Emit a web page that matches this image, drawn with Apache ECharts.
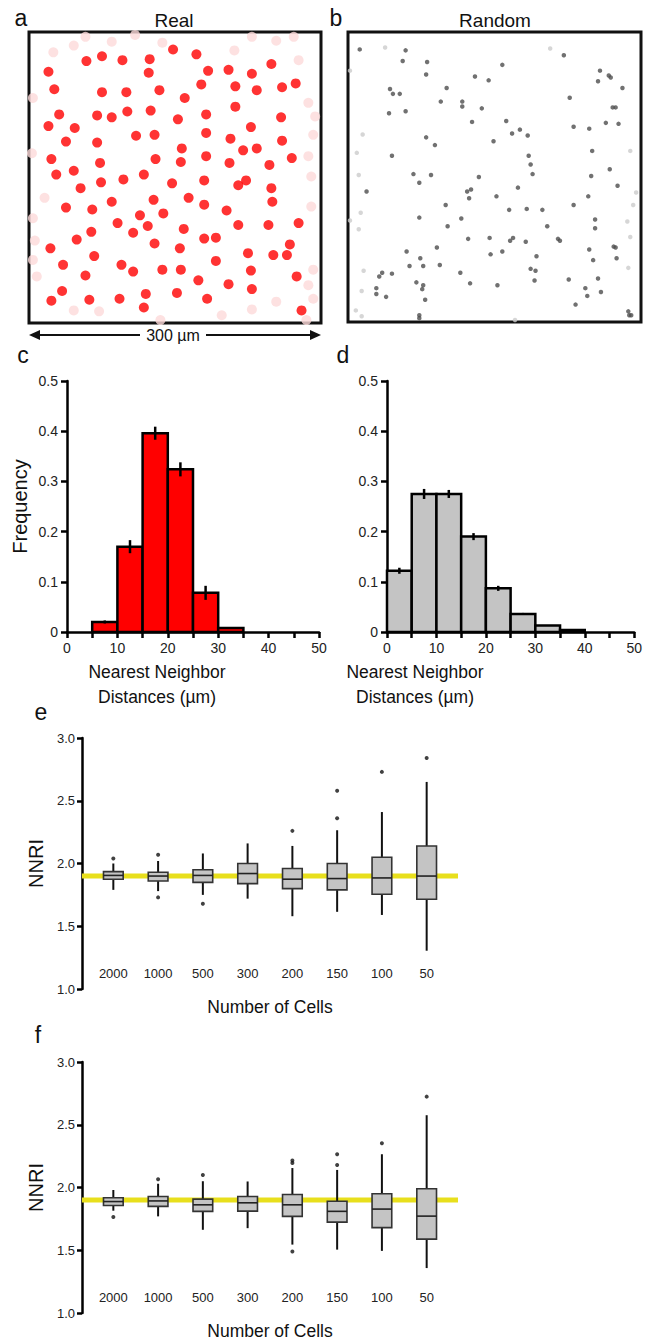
<!DOCTYPE html>
<html>
<head>
<meta charset="utf-8">
<script src="https://cdn.jsdelivr.net/npm/echarts@6/dist/echarts.min.js"></script>
<style>
html, body { margin: 0; padding: 0; background: #fff; }
#chart { width: 645px; height: 1341px; }
</style>
</head>
<body>
<div id="chart"></div>
<script>
// a: cell positions in the real field (µm, y counted from the top)
var realCells = [[148,18],[172,23],[75,25],[59,30],[96,29],[124,28],[249,33],[20,41],[123,42],[184,40],[205,39],[229,43],[26,59],[75,62],[100,62],[134,60],[177,54],[212,56],[234,60],[260,57],[274,53],[160,68],[212,77],[31,85],[70,86],[85,88],[101,82],[125,81],[153,90],[182,85],[259,88],[20,97],[47,99],[228,98],[110,107],[129,106],[182,104],[38,113],[70,114],[207,110],[157,120],[220,122],[234,120],[260,112],[23,131],[73,135],[130,131],[156,134],[182,128],[206,135],[270,130],[247,137],[28,147],[46,143],[74,155],[97,152],[118,147],[147,156],[180,153],[215,158],[223,153],[53,161],[249,161],[250,175],[164,171],[128,173],[85,175],[38,181],[65,183],[180,178],[203,184],[138,187],[114,189],[91,197],[122,200],[159,203],[64,206],[107,207],[215,199],[246,199],[277,197],[49,214],[180,213],[192,212],[129,218],[22,223],[155,223],[268,219],[67,231],[225,228],[251,230],[265,230],[192,236],[35,240],[95,240],[107,247],[137,245],[156,245],[228,246],[58,251],[275,252],[174,256],[205,260],[229,265],[34,267],[23,277],[62,276],[93,275],[120,270],[152,269],[183,275],[118,284],[280,287]];
// faded cells at the border of the real field
var realEdgeCells = [[25,21],[46,14],[58,5],[85,10],[109,3],[137,11],[211,19],[229,5],[254,9],[272,5],[277,29],[4,68],[287,73],[294,87],[292,106],[3,125],[287,128],[290,149],[16,171],[4,192],[290,180],[6,215],[4,235],[8,252],[292,245],[287,261],[46,287],[72,288],[135,297],[198,292],[229,286],[254,278],[292,275],[285,297]];

// b: random field
var randomCells = [[12,18],[59,19],[56,30],[81,31],[158,34],[221,24],[80,44],[130,46],[144,50],[258,40],[267,45],[269,47],[256,51],[281,58],[43,59],[46,64],[53,64],[101,58],[227,68],[95,72],[117,72],[117,77],[137,79],[42,84],[59,82],[271,78],[274,78],[127,93],[162,92],[176,101],[168,105],[184,107],[231,98],[247,100],[264,94],[277,95],[80,109],[89,117],[149,113],[45,128],[250,123],[185,128],[187,137],[189,147],[268,142],[67,147],[73,156],[85,148],[134,150],[249,149],[276,159],[19,165],[122,165],[126,163],[124,172],[174,161],[152,170],[246,170],[100,179],[231,179],[165,184],[183,183],[199,184],[253,194],[73,192],[116,193],[102,201],[204,201],[253,203],[123,214],[145,213],[169,213],[166,216],[182,217],[215,214],[217,216],[272,222],[274,223],[247,225],[91,223],[60,227],[158,227],[146,230],[193,232],[251,236],[275,234],[74,234],[63,242],[77,242],[94,241],[187,245],[192,247],[35,249],[32,253],[45,250],[115,249],[70,259],[77,262],[76,266],[125,260],[153,262],[191,257],[226,256],[256,255],[29,265],[29,271],[39,274],[243,265],[245,273],[259,269],[79,277],[233,282],[287,289],[288,293],[290,293],[73,293],[73,296]];
var randomEdgeCells = [[38,16],[207,17],[15,106],[9,125],[11,148],[13,187],[11,204],[295,166],[292,179],[286,196],[289,212],[287,244],[16,247],[14,268],[8,288],[14,294],[171,298],[289,123],[2,40],[2,195]];

// c, d: nearest neighbour histograms (bin start, µm)
var binStart = [0, 5, 10, 15, 20, 25, 30, 35, 40, 45];
var binWidth = 5;
var realFreq = [0, 0.02, 0.17, 0.396, 0.324, 0.078, 0.008, 0, 0, 0];
var realErr  = [0, 0.003, 0.013, 0.013, 0.014, 0.014, 0.002, 0, 0, 0];
var randFreq = [0.122, 0.275, 0.275, 0.19, 0.087, 0.036, 0.013, 0.004, 0, 0];
var randErr  = [0.006, 0.01, 0.008, 0.007, 0.005, 0.002, 0.001, 0, 0, 0];

// e, f: NNRI by number of cells  [min, Q1, median, Q3, max]
var cellCounts = ['2000', '1000', '500', '300', '200', '150', '100', '50'];
var boxesE = [[1.79,1.875,1.905,1.935,2.0],[1.78,1.86,1.90,1.93,2.02],[1.75,1.85,1.905,1.95,2.08],[1.72,1.84,1.92,2.0,2.16],[1.58,1.80,1.875,1.96,2.14],[1.615,1.79,1.88,2.0,2.265],[1.59,1.755,1.885,2.05,2.41],[1.305,1.715,1.90,2.14,2.65]];
var outliersE = [[2.04],[2.07,1.73],[1.68],[],[2.26],[2.58,2.36],[2.73],[2.84]];
var boxesF = [[1.815,1.857,1.888,1.918,1.98],[1.77,1.85,1.893,1.928,2.03],[1.663,1.81,1.862,1.907,2.05],[1.676,1.812,1.878,1.928,2.048],[1.545,1.77,1.862,1.944,2.155],[1.505,1.724,1.81,1.89,2.14],[1.495,1.68,1.828,1.95,2.265],[1.358,1.589,1.772,1.99,2.576]];
var outliersF = [[1.765],[2.066],[2.10],[],[2.215,2.195,1.49],[2.265,2.18],[2.353],[2.724]];
var nnriRef = 1.9;

var FONT = '"Liberation Sans", Arial, Helvetica, sans-serif';

function histData(freq, err) {
  return binStart.map(function (s, i) { return [s, s + binWidth, freq[i], err[i]]; });
}
function boxData(boxes) {
  return boxes.map(function (b, i) { return [i + 1].concat(b); });
}
function outlierData(outs) {
  var res = [];
  outs.forEach(function (list, i) {
    list.forEach(function (v) { res.push([i + 1, v]); });
  });
  return res;
}

function histItem(fill) {
  return function (params, api) {
    var x0 = api.value(0), x1 = api.value(1), v = api.value(2), e = api.value(3);
    if (!(v > 0)) return;
    var p0 = api.coord([x0, v]);
    var p1 = api.coord([x1, 0]);
    var mid = (x0 + x1) / 2;
    var et = api.coord([mid, v + e]);
    var eb = api.coord([mid, v - e]);
    var kids = [{
      type: 'rect',
      shape: { x: p0[0], y: p0[1], width: p1[0] - p0[0], height: p1[1] - p0[1] },
      style: { fill: fill, stroke: '#000', lineWidth: 2.5 }
    }];
    if (e > 0) {
      kids.push({
        type: 'line',
        shape: { x1: et[0], y1: et[1], x2: eb[0], y2: eb[1] },
        style: { stroke: '#000', lineWidth: 2.5 }
      });
    }
    return { type: 'group', children: kids };
  };
}

function boxItem(params, api) {
  var x = api.value(0);
  var lo = api.coord([x, api.value(1)]);
  var q1 = api.coord([x, api.value(2)]);
  var md = api.coord([x, api.value(3)]);
  var q3 = api.coord([x, api.value(4)]);
  var hi = api.coord([x, api.value(5)]);
  var w = api.size([0.44, 0])[0];
  return {
    type: 'group',
    children: [
      { type: 'line', shape: { x1: lo[0], y1: lo[1], x2: q1[0], y2: q1[1] }, style: { stroke: '#111', lineWidth: 2 } },
      { type: 'line', shape: { x1: q3[0], y1: q3[1], x2: hi[0], y2: hi[1] }, style: { stroke: '#111', lineWidth: 2 } },
      { type: 'rect', shape: { x: q3[0] - w / 2, y: q3[1], width: w, height: q1[1] - q3[1] }, style: { fill: '#c4c4c4', stroke: '#333', lineWidth: 1.6 } },
      { type: 'line', shape: { x1: md[0] - w / 2, y1: md[1], x2: md[0] + w / 2, y2: md[1] }, style: { stroke: '#222', lineWidth: 1.6 } }
    ]
  };
}

var axisLine = { show: true, lineStyle: { color: '#000', width: 2.5 } };
var axisTick = { show: true, inside: false, length: 6, lineStyle: { color: '#000', width: 2.5 } };
var labelStyle = { color: '#222', fontFamily: FONT, fontSize: 14 };

function fieldAxes(grid) {
  return {
    x: { type: 'value', gridIndex: grid, min: 0, max: 300, show: false },
    y: { type: 'value', gridIndex: grid, min: 0, max: 300, inverse: true, show: false }
  };
}

function histX(grid) {
  return {
    type: 'value', gridIndex: grid, min: 0, max: 50, interval: 5,
    axisLine: axisLine, axisTick: axisTick, splitLine: { show: false },
    axisLabel: Object.assign({ margin: 9, formatter: function (v) { return v % 10 === 0 ? String(v) : ''; } }, labelStyle)
  };
}
function histY(grid, name) {
  return {
    type: 'value', gridIndex: grid, min: 0, max: 0.5, interval: 0.1,
    axisLine: axisLine, axisTick: axisTick, splitLine: { show: false },
    axisLabel: Object.assign({ margin: 9, fontSize: 14.5 }, labelStyle),
    name: name, nameLocation: 'middle', nameGap: 37,
    nameTextStyle: { color: '#111', fontFamily: FONT, fontSize: 20 }
  };
}
function nnriX(grid) {
  return {
    type: 'value', gridIndex: grid, min: 0.3, max: 8.7, offset: -30,
    axisLine: { show: false }, axisTick: { show: false }, splitLine: { show: false },
    axisLabel: Object.assign({
      margin: 8, customValues: [1, 2, 3, 4, 5, 6, 7, 8],
      formatter: function (v) { return cellCounts[Math.round(v) - 1] || ''; }
    }, labelStyle, { fontSize: 13 }),
    name: 'Number of Cells', nameLocation: 'middle', nameGap: 39,
    nameTextStyle: { color: '#111', fontFamily: FONT, fontSize: 17.5 }
  };
}
function nnriY(grid) {
  return {
    type: 'value', gridIndex: grid, min: 1, max: 3, interval: 0.5,
    axisLine: axisLine, axisTick: { show: true, length: 5, lineStyle: { color: '#000', width: 2.5 } },
    splitLine: { show: false },
    axisLabel: Object.assign({ margin: 7, formatter: function (v) { return v.toFixed(1); } }, labelStyle, { fontSize: 13 }),
    name: 'NNRI', nameLocation: 'middle', nameGap: 30,
    nameTextStyle: { color: '#111', fontFamily: FONT, fontSize: 20 }
  };
}

var fa = fieldAxes(0), fb = fieldAxes(1);

function txt(x, y, s, size, extra) {
  return {
    type: 'text', x: x, y: y, z: 100,
    style: Object.assign({ text: s, fill: '#111', font: size + 'px ' + FONT, align: 'center', verticalAlign: 'middle' }, extra || {})
  };
}

var chart = echarts.init(document.getElementById('chart'), null, { renderer: 'svg' });
chart.setOption({
  animation: false,
  backgroundColor: '#fff',
  grid: [
    { left: 29, top: 32, width: 292, height: 291, show: true, borderColor: '#111', borderWidth: 3, backgroundColor: '#fff' },
    { left: 348, top: 32, width: 293, height: 290, show: true, borderColor: '#111', borderWidth: 3, backgroundColor: '#fff' },
    { left: 67, top: 381, width: 252, height: 251 },
    { left: 387, top: 381, width: 252, height: 251 },
    { left: 82, top: 738, width: 376, height: 251 },
    { left: 82, top: 1062, width: 376, height: 251 }
  ],
  xAxis: [fa.x, fb.x, histX(2), histX(3), nnriX(4), nnriX(5)],
  yAxis: [fa.y, fb.y, histY(2, 'Frequency'), histY(3, ''), nnriY(4), nnriY(5)],
  graphic: [
    txt(21, 18, 'a', 23),
    txt(174, 20, 'Real', 19),
    txt(336, 18, 'b', 23),
    txt(495, 20, 'Random', 19),
    { type: 'line', shape: { x1: 36, y1: 335, x2: 140, y2: 335 }, style: { stroke: '#111', lineWidth: 2 } },
    { type: 'line', shape: { x1: 206, y1: 335, x2: 314, y2: 335 }, style: { stroke: '#111', lineWidth: 2 } },
    { type: 'polygon', shape: { points: [[29, 335], [40, 330], [40, 340]] }, style: { fill: '#111' } },
    { type: 'polygon', shape: { points: [[321, 335], [310, 330], [310, 340]] }, style: { fill: '#111' } },
    txt(173, 335, '300 µm', 16),
    txt(23, 355, 'c', 23),
    txt(343, 355, 'd', 23),
    txt(157, 684, 'Nearest Neighbor\nDistances (µm)', 17.5, { lineHeight: 25 }),
    txt(415, 684, 'Nearest Neighbor\nDistances (µm)', 17.5, { lineHeight: 25 }),
    txt(41, 712, 'e', 23),
    txt(38, 1035, 'f', 23)
  ],
  series: [
    { type: 'scatter', xAxisIndex: 0, yAxisIndex: 0, data: realEdgeCells, symbolSize: 10, itemStyle: { color: '#fcdada' }, silent: true },
    { type: 'scatter', xAxisIndex: 0, yAxisIndex: 0, data: realCells, symbolSize: 10, itemStyle: { color: '#ff0000' }, silent: true },
    { type: 'scatter', xAxisIndex: 1, yAxisIndex: 1, data: randomEdgeCells, symbolSize: 4.5, itemStyle: { color: '#cccccc' }, silent: true },
    { type: 'scatter', xAxisIndex: 1, yAxisIndex: 1, data: randomCells, symbolSize: 4.5, itemStyle: { color: '#4d4d4d' }, silent: true },
    { type: 'custom', xAxisIndex: 2, yAxisIndex: 2, data: histData(realFreq, realErr), encode: { x: [0, 1], y: 2 }, renderItem: histItem('#ff0000'), silent: true },
    { type: 'custom', xAxisIndex: 3, yAxisIndex: 3, data: histData(randFreq, randErr), encode: { x: [0, 1], y: 2 }, renderItem: histItem('#c4c4c4'), silent: true },
    { type: 'line', xAxisIndex: 4, yAxisIndex: 4, data: [[0.3, nnriRef], [8.7, nnriRef]], symbol: 'none', lineStyle: { color: '#e8df1c', width: 5 }, z: 1, silent: true },
    { type: 'custom', xAxisIndex: 4, yAxisIndex: 4, data: boxData(boxesE), encode: { x: 0, y: [1, 2, 3, 4, 5] }, renderItem: boxItem, z: 3, silent: true },
    { type: 'scatter', xAxisIndex: 4, yAxisIndex: 4, data: outlierData(outliersE), symbolSize: 4, itemStyle: { color: '#111' }, z: 4, silent: true },
    { type: 'line', xAxisIndex: 5, yAxisIndex: 5, data: [[0.3, nnriRef], [8.7, nnriRef]], symbol: 'none', lineStyle: { color: '#e8df1c', width: 5 }, z: 1, silent: true },
    { type: 'custom', xAxisIndex: 5, yAxisIndex: 5, data: boxData(boxesF), encode: { x: 0, y: [1, 2, 3, 4, 5] }, renderItem: boxItem, z: 3, silent: true },
    { type: 'scatter', xAxisIndex: 5, yAxisIndex: 5, data: outlierData(outliersF), symbolSize: 4, itemStyle: { color: '#111' }, z: 4, silent: true }
  ]
});
</script>
</body>
</html>
